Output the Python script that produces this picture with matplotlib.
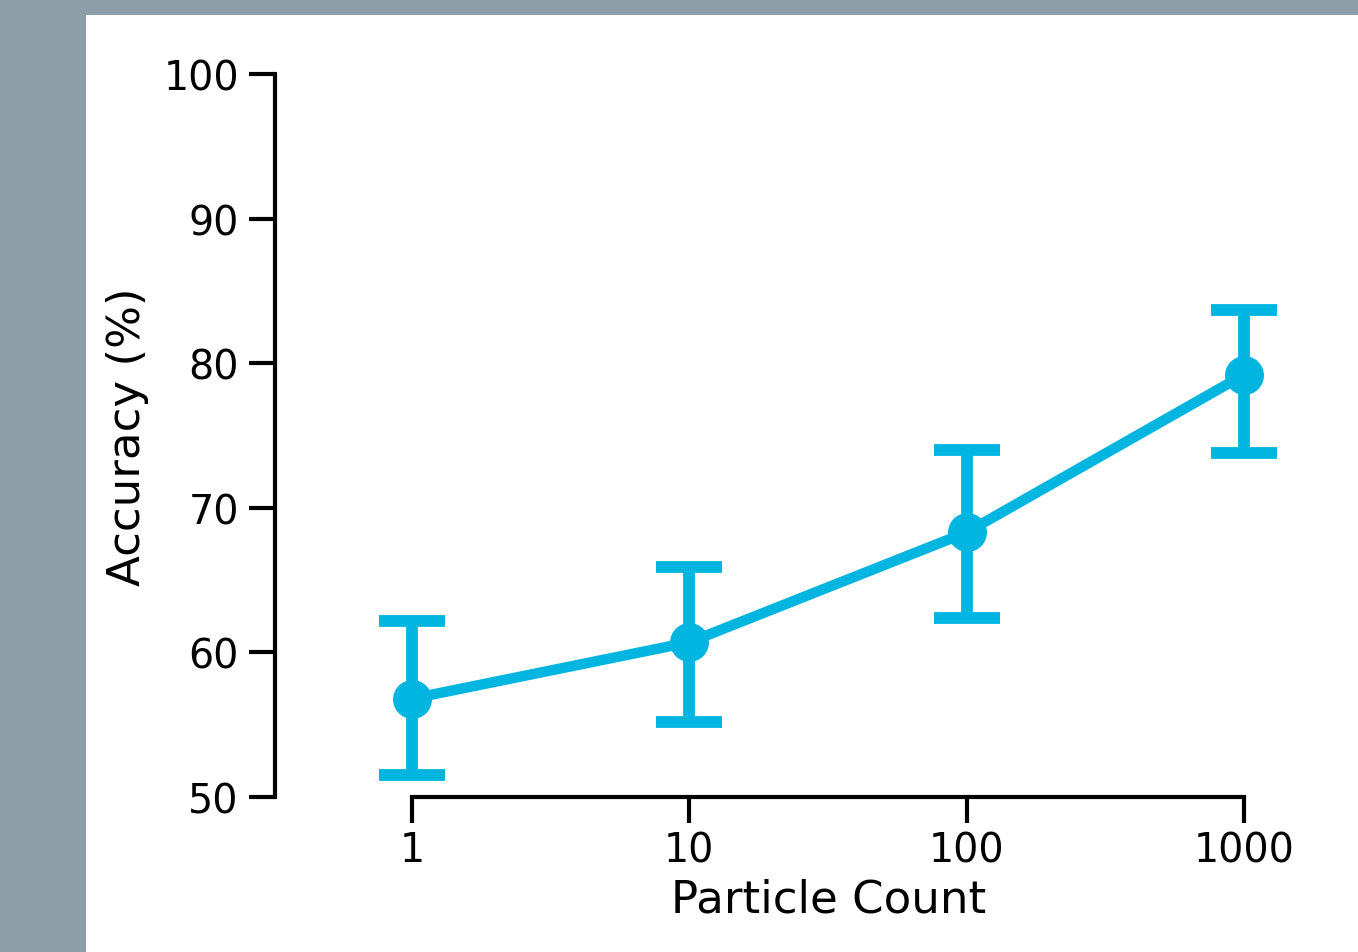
import numpy as np
import matplotlib
matplotlib.use('Agg')
import matplotlib.pyplot as plt
from matplotlib.patches import Rectangle

# data
counts = ['1', '10', '100', '1000']
accuracy = [56.8, 60.7, 68.3, 79.2]
err_low = [51.5, 55.2, 62.4, 73.8]
err_high = [62.2, 65.9, 74.0, 83.7]
yticks = [50, 60, 70, 80, 90, 100]

color = '#00b5e0'
W, H = 1358, 953

fig = plt.figure(figsize=(W / 100, H / 100), dpi=100, facecolor='#8d9ea8')
# white panel behind the plot
fig.patches.append(Rectangle((86 / W, 0), 1 - 86 / W, 1 - 16 / H,
                             transform=fig.transFigure, facecolor='white',
                             edgecolor='none', zorder=-10))

# axes placed in pixels: left spine at x=275, y from 798 (50) to 75 (100)
left, bottom, top = 275, 798, 75
x0, dx = 412, 277.3
xmin = -(x0 - left) / dx
xmax = 3.5
right = x0 + xmax * dx
ax = fig.add_axes([left / W, 1 - bottom / H, (right - left) / W, (bottom - top) / H])
ax.set_facecolor('none')

x = np.arange(len(counts))
acc = np.array(accuracy)
yerr = [acc - np.array(err_low), np.array(err_high) - acc]
ax.errorbar(x, acc, yerr=yerr, color=color, lw=7.5, marker='o', ms=27,
            elinewidth=8.5, capsize=24, capthick=8.5, clip_on=False, zorder=3)

ax.set_xlim(xmin, xmax)
ax.set_ylim(50, 100)
ax.set_xticks(x)
ax.set_xticklabels(counts)
ax.set_yticks(yticks)

for s in ['top', 'right']:
    ax.spines[s].set_visible(False)
ax.spines['left'].set_linewidth(3)
ax.spines['bottom'].set_linewidth(3)
ax.spines['bottom'].set_bounds(0, 3)
ax.spines['left'].set_bounds(50, 100)

ax.tick_params(axis='both', length=19, width=3, labelsize=28.5, color='black')
ax.tick_params(axis='y', pad=7)
ax.tick_params(axis='x', pad=5)

ax.set_xlabel('Particle Count', fontsize=32.5, labelpad=5)
ax.set_ylabel('Accuracy (%)', fontsize=32.5, labelpad=10)

fig.savefig('out.png', dpi=100, facecolor=fig.get_facecolor())
